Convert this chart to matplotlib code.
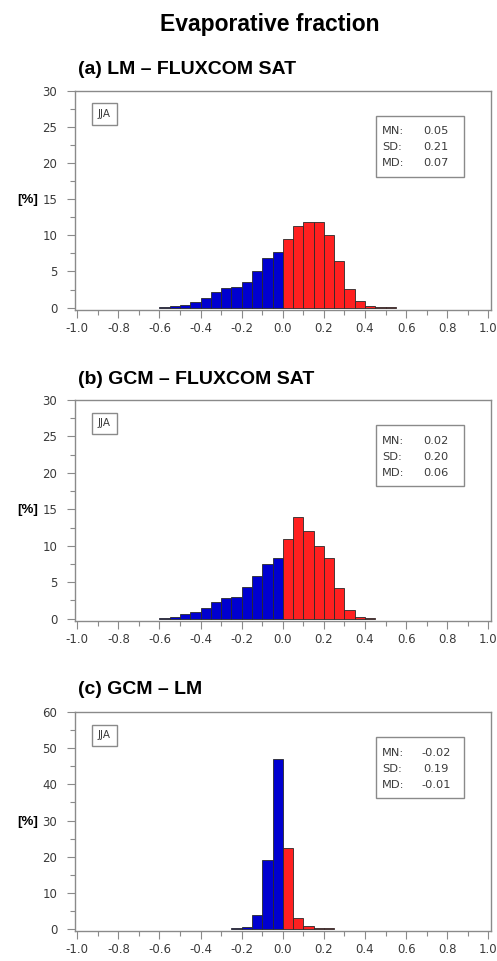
import matplotlib
matplotlib.use("Agg")
import matplotlib.pyplot as plt
from matplotlib.ticker import MultipleLocator, FixedLocator

# histogram bins (left edges, width 0.05) and frequencies [%]
bins_a = [-0.60, -0.55, -0.50, -0.45, -0.40, -0.35, -0.30, -0.25, -0.20, -0.15, -0.10, -0.05,
          0.00, 0.05, 0.10, 0.15, 0.20, 0.25, 0.30, 0.35, 0.40, 0.45, 0.50]
freq_a = [0.1, 0.2, 0.4, 0.75, 1.4, 2.15, 2.7, 2.8, 3.6, 5.0, 6.85, 7.65,
          9.5, 11.3, 11.8, 11.8, 10.1, 6.5, 2.55, 0.9, 0.3, 0.1, 0.05]

bins_b = [-0.60, -0.55, -0.50, -0.45, -0.40, -0.35, -0.30, -0.25, -0.20, -0.15, -0.10, -0.05,
          0.00, 0.05, 0.10, 0.15, 0.20, 0.25, 0.30, 0.35, 0.40]
freq_b = [0.1, 0.2, 0.6, 0.9, 1.45, 2.3, 2.8, 3.0, 4.35, 5.8, 7.5, 8.35,
          10.95, 13.9, 12.0, 10.0, 8.35, 4.2, 1.25, 0.2, 0.1]

bins_c = [-0.25, -0.20, -0.15, -0.10, -0.05, 0.00, 0.05, 0.10, 0.15, 0.20]
freq_c = [0.2, 0.6, 3.8, 19.2, 47.0, 22.4, 3.0, 0.85, 0.3, 0.15]

titles = ["(a) LM \u2013 FLUXCOM SAT", "(b) GCM \u2013 FLUXCOM SAT", "(c) GCM \u2013 LM"]
stats = [["0.05", "0.21", "0.07"], ["0.02", "0.20", "0.06"], ["-0.02", "0.19", "-0.01"]]
stat_names = ["MN:", "SD:", "MD:"]
season = "JJA"
x_ticks = [-1.0, -0.8, -0.6, -0.4, -0.2, 0.0, 0.2, 0.4, 0.6, 0.8, 1.0]

W, H = 497, 961
fig = plt.figure(figsize=(W / 100, H / 100), dpi=100)
fig.patch.set_facecolor("white")

def px_axes(left, top, right, bottom):
    return fig.add_axes([left / W, 1 - bottom / H, (right - left) / W, (bottom - top) / H])

frame_col = "#8a8a8a"
text_col = "#3a3a3a"

# panel geometry in pixels: top, bottom, title y, ymax, ymin, major, minor
panels = [
    (90.5, 310.0, 70, 30, -0.32, 5, 2.5),
    (400.0, 621.0, 380, 30, -0.32, 5, 2.5),
    (712.0, 931.0, 689, 60, -0.55, 10, 5),
]
data = [(bins_a, freq_a), (bins_b, freq_b), (bins_c, freq_c)]

fig.text(270 / W, 1 - 25 / H, "Evaporative fraction", ha="center", va="center",
         fontsize=16.5, fontweight="bold", family="Liberation Sans")

for i, (top, bot, ty, ymax, ymin, major, minor) in enumerate(panels):
    ax = px_axes(74.5, top, 490.5, bot)
    bins, freq = data[i]
    colors = ["#0000d0" if b < 0 else "#ff2020" for b in bins]
    ax.bar(bins, freq, width=0.05, align="edge", color=colors,
           edgecolor="#2a2a2a", linewidth=0.6, zorder=2)
    ax.set_xlim(-1.0136, 1.0107)
    ax.set_ylim(ymin, ymax)

    for s in ax.spines.values():
        s.set_color(frame_col)
        s.set_linewidth(1.0)

    ax.xaxis.set_major_locator(FixedLocator(x_ticks))
    ax.xaxis.set_minor_locator(MultipleLocator(0.1))
    ax.set_xticklabels([("-" if v < 0 else "") + "%.1f" % abs(v) for v in x_ticks])
    ax.yaxis.set_major_locator(MultipleLocator(major))
    ax.yaxis.set_minor_locator(MultipleLocator(minor))
    ax.tick_params(which="major", direction="out", length=5.5, width=0.8, color=frame_col,
                   labelsize=8.5, labelcolor=text_col)
    ax.tick_params(which="minor", direction="out", length=3.4, width=0.8, color=frame_col)
    ax.tick_params(axis="x", which="major", pad=3)
    ax.tick_params(axis="y", which="major", pad=7)
    ax.set_ylim(ymin, ymax)

    fig.text(78 / W, 1 - ty / H, titles[i], ha="left", va="center",
             fontsize=14, fontweight="bold", family="Liberation Sans")
    fig.text(28 / W, 1 - (top + bot) / 2 / H, "[%]", ha="center", va="center",
             fontsize=9.5, fontweight="bold", family="Liberation Sans")

    # season box
    ax.text(104.5 / W, 1 - (top + 23.5) / H, season, transform=fig.transFigure,
            ha="center", va="center", fontsize=7.5, color=text_col,
            bbox=dict(boxstyle="square,pad=0.55", fc="white", ec=frame_col, lw=1.0))

    # stats box
    box = plt.Rectangle((376 / W, 1 - (top + 86) / H), 88 / W, 61 / H,
                        transform=fig.transFigure, fill=False, ec=frame_col, lw=1.0)
    fig.add_artist(box)
    for k in range(3):
        yy = 1 - (top + 41 + 16 * k) / H
        fig.text(382 / W, yy, stat_names[k], ha="left", va="center",
                 fontsize=8.2, color=text_col)
        fig.text(436 / W, yy, stats[i][k], ha="center", va="center",
                 fontsize=8.2, color=text_col)

fig.savefig("out.png", dpi=100, facecolor="white")
